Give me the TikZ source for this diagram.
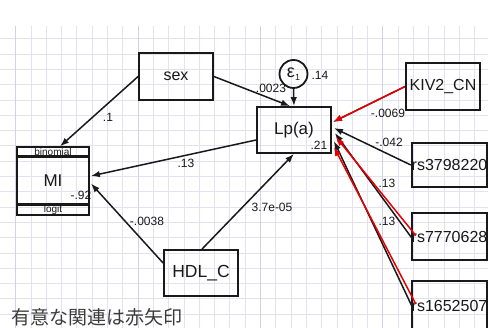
\documentclass[tikz,border=0pt]{standalone}
\usepackage{fontspec}
\setmainfont{Liberation Sans}
\newfontfamily\cjk{Noto Sans CJK JP}
\usetikzlibrary{arrows.meta,calc}
\definecolor{gridc}{RGB}{226,226,240}
\definecolor{gridm}{RGB}{210,210,230}
\definecolor{redarr}{RGB}{232,0,0}
\definecolor{inkc}{RGB}{25,25,25}
\begin{document}
\begin{tikzpicture}[x=1pt,y=-1pt,
  box/.style={draw=inkc,line width=1.8pt,minimum width=74pt,minimum height=47pt,inner sep=0pt,text=inkc},
  lbl/.style={inner sep=0pt,text=inkc,font=\fontsize{12}{12}\selectfont},
  arr/.style={draw=inkc,line width=1.5pt,-{Latex[length=9pt,width=6.5pt]}},
  sig/.style={draw=redarr,line width=1.5pt,-{Latex[length=9pt,width=6.5pt]}}]
\fill[white] (0,0) rectangle (488,328);
\useasboundingbox (0,0) rectangle (488,328);
% grid
\foreach \i in {0,...,31}
  \draw[gridc,line width=0.6pt] ({15.5+15.3*\i},26) -- ({15.5+15.3*\i},328);
\foreach \j in {0,...,19}
  \draw[gridc,line width=0.6pt] (0,{38.7+15.3*\j}) -- (488,{38.7+15.3*\j});
\foreach \i in {0,...,3}
  \draw[gridm,line width=0.7pt] ({15.5+122.4*\i},26) -- ({15.5+122.4*\i},328);

% nodes
\node[box,font=\fontsize{16}{16}\selectfont] (sex) at (176,76.5) {sex};
\node[box,minimum height=46pt,font=\fontsize{17}{17}\selectfont] (lp) at (294,130) {Lp(a)};
\node[draw=inkc,circle,line width=1.8pt,minimum size=28pt,inner sep=0pt,text=inkc,
  font=\fontsize{18}{18}\selectfont] (eps) at (293.5,74)
  {ε\raisebox{-3.5pt}{\fontsize{9}{9}\selectfont 1}};
\node[box,font=\fontsize{16}{16}\selectfont] (kiv) at (443,86.5) {KIV2\_CN};
\node[box,minimum width=73pt,minimum height=44pt,font=\fontsize{16}{16}\selectfont] (rs37) at (449.5,165) {rs3798220};
\node[box,minimum width=73pt,font=\fontsize{16}{16}\selectfont] (rs77) at (449.5,236.5) {rs7770628};
\node[box,minimum width=73pt,minimum height=50pt,font=\fontsize{16}{16}\selectfont] (rs16) at (449.5,306) {rs1652507};
\node[box,minimum height=46pt,font=\fontsize{17.5}{17}\selectfont] (hdl) at (201,273) {HDL\_C};

% MI group
\node[box,minimum width=72pt,minimum height=47pt,font=\fontsize{17}{17}\selectfont] (mi) at (53,180.5) {MI};
\node[draw=inkc,line width=1.2pt,minimum width=72pt,minimum height=10pt,inner sep=0pt,text=inkc,
  font=\fontsize{10}{10}\selectfont] (bin) at (53,152) {binomial};
\node[draw=inkc,line width=1.2pt,minimum width=72pt,minimum height=11pt,inner sep=0pt,text=inkc,
  font=\fontsize{10}{10}\selectfont] (logit) at (53,209.5) {logit};
\draw[inkc,line width=3pt] (mi.north west) -- (mi.north east);
\draw[inkc,line width=3pt] (mi.south west) -- (mi.south east);

% connectors
\draw[arr] (sex.west) -- ($(bin.north)+(7,0)$);
\draw[arr] (sex.east) -- ($(lp.north)+(-4,0)$);
\draw[arr] (eps.south) -- (lp.north);
\draw[arr] ($(lp.west)+(0,10)$) -- ($(mi.east)+(1,-4.5)$);
\draw[arr] ($(hdl.west)+(0,-10)$) -- ($(mi.east)+(1,3)$);
\draw[arr] ($(hdl.north)+(1,0)$) -- (lp.south);
\draw[arr] (kiv.west) -- ($(lp.east)+(1,-8)$);
\draw[sig] (kiv.west) -- ($(lp.east)+(1,-8)$);
\draw[arr] (rs37.west) -- ($(lp.east)+(2,-2)$);
\draw[arr] ($(rs77.west)+(1,1.5)$) -- ($(lp.east)+(3,3)$);
\draw[sig] ($(rs77.west)+(5,-1)$) -- ($(lp.east)+(4,7)$);
\draw[arr] ($(rs16.west)+(1,0)$) -- ($(lp.east)+(2,11)$);
\draw[sig] ($(rs16.west)+(5,-2)$) -- ($(lp.east)+(2,17)$);

% labels
\node[lbl] (l1) at (108,117) {.1};
\node[lbl] (l2) at (271,88) {.0023};
\node[lbl] (l3) at (320,75) {.14};
\node[lbl] (l4) at (319,145) {.21};
\node[lbl] (l5) at (186,163) {.13};
\node[lbl] (l6) at (81,195) {-.92};
\node[lbl] (l7) at (147,221) {-.0038};
\node[lbl] (l8) at (272,207) {3.7e-05};
\node[lbl] (l9) at (388,113) {-.0069};
\node[lbl] (l10) at (389,142) {-.042};
\node[lbl] (l11) at (387,183) {.13};
\node[lbl] (l12) at (387,221) {.13};

\node[anchor=west,inner sep=0pt,text={rgb,255:red,60;green,60;blue,60},
  font=\cjk\fontsize{19}{19}\selectfont] (note) at (11,317) {有意な関連は赤矢印};
\end{tikzpicture}
\end{document}
